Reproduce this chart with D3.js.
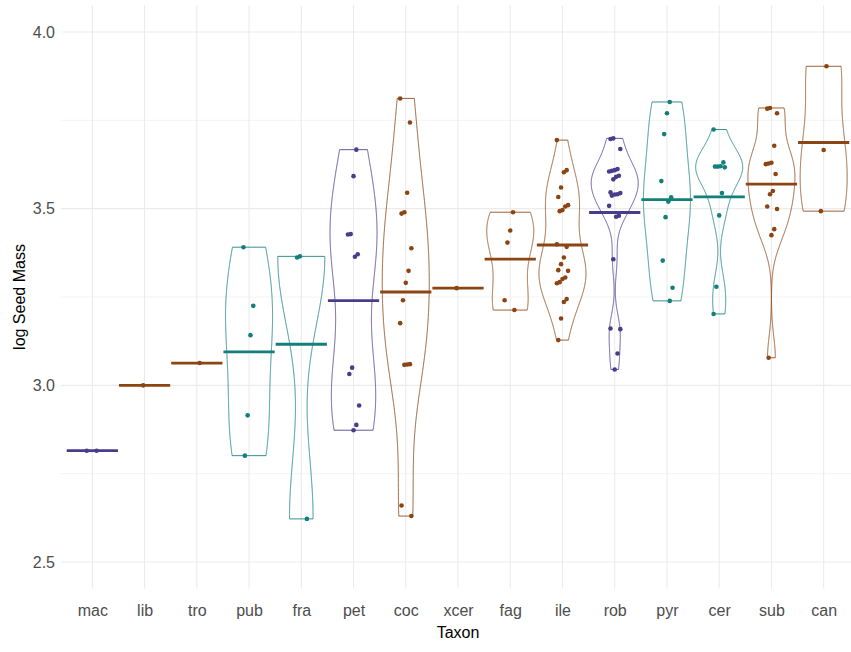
<!DOCTYPE html>
<html lang="en">
<head>
    <meta charset="UTF-8">
    <title>log Seed Mass by Taxon</title>
    <script src="https://cdnjs.cloudflare.com/ajax/libs/d3/7.8.5/d3.min.js"></script>
    <style>
        * { margin: 0; padding: 0; box-sizing: border-box; }
        body { background: #fff; font-family: 'Liberation Sans', Arial, sans-serif; }
        .tick text { fill: #4d4d4d; font-size: 16px; font-family: 'Liberation Sans', Arial, sans-serif; }
        .axis-title { fill: #000; font-size: 16px; }
    </style>
</head>
<body>
    <div id="chart"></div>

    <script>
        // categories and colour group of each taxon
        const taxa = ["mac", "lib", "tro", "pub", "fra", "pet", "coc", "xcer", "fag", "ile", "rob", "pyr", "cer", "sub", "can"];
        const clade = ["A", "B", "B", "C", "C", "A", "B", "B", "B", "B", "A", "C", "C", "B", "B"];

        // log seed mass per taxon
        const mac = [2.815, 2.815];
        const lib = [3.0];
        const tro = [3.063];
        const pub = [3.391, 3.225, 3.142, 2.915, 2.801];
        const fra = [3.365, 3.362, 2.622];
        const pet = [3.667, 3.592, 3.428, 3.427, 3.371, 3.364, 3.05, 3.032, 2.943, 2.888, 2.873];
        const coc = [3.812, 3.744, 3.545, 3.49, 3.486, 3.388, 3.324, 3.29, 3.241, 3.176, 3.06, 3.059, 3.058, 2.66, 2.63];
        const xcer = [3.275];
        const fag = [3.49, 3.438, 3.404, 3.241, 3.213];
        const ile = [3.694, 3.609, 3.603, 3.56, 3.533, 3.51, 3.506, 3.496, 3.493, 3.399, 3.392, 3.362, 3.343,
                     3.326, 3.324, 3.305, 3.301, 3.292, 3.289, 3.244, 3.236, 3.189, 3.128];
        const rob = [3.699, 3.697, 3.669, 3.612, 3.609, 3.607, 3.605, 3.593, 3.59, 3.583, 3.546, 3.544, 3.541,
                     3.54, 3.537, 3.508, 3.48, 3.477, 3.357, 3.161, 3.159, 3.09, 3.045];
        const pyr = [3.802, 3.77, 3.711, 3.578, 3.532, 3.52, 3.476, 3.353, 3.276, 3.239];
        const cer = [3.724, 3.631, 3.62, 3.619, 3.619, 3.617, 3.544, 3.481, 3.279, 3.202];
        const sub = [3.785, 3.783, 3.77, 3.678, 3.63, 3.628, 3.626, 3.598, 3.55, 3.541, 3.506, 3.499, 3.442, 3.425, 3.078];
        const can = [3.903, 3.666, 3.493];

        const seedMass = [mac, lib, tro, pub, fra, pet, coc, xcer, fag, ile, rob, pyr, cer, sub, can];

        const yTicks = [2.5, 3.0, 3.5, 4.0];
        const yMinor = [2.75, 3.25, 3.75];

        const colors = { A: "#483d8b", B: "#8b4513", C: "#127f7a" };

        const width = 851, height = 652;
        const panel = { left: 61, right: 855, top: 5.5, bottom: 588.5 };

        const svg = d3.select("#chart").append("svg")
            .attr("width", width)
            .attr("height", height);

        const x = d3.scalePoint()
            .domain(taxa)
            .range([panel.left, panel.right])
            .padding(0.6);
        const step = x.step();

        // ylim(2.5, 4) with ggplot's 5% expansion
        const y = d3.scaleLinear()
            .domain([2.425, 4.075])
            .range([panel.bottom, panel.top]);

        // grid
        const grid = svg.append("g");
        grid.selectAll(".minor").data(yMinor).enter().append("line")
            .attr("x1", panel.left).attr("x2", width)
            .attr("y1", d => y(d)).attr("y2", d => y(d))
            .attr("stroke", "#ebebeb").attr("stroke-width", 0.6);
        grid.selectAll(".major").data(yTicks).enter().append("line")
            .attr("x1", panel.left).attr("x2", width)
            .attr("y1", d => y(d)).attr("y2", d => y(d))
            .attr("stroke", "#ebebeb").attr("stroke-width", 1.1);
        grid.selectAll(".vert").data(taxa).enter().append("line")
            .attr("x1", d => x(d)).attr("x2", d => x(d))
            .attr("y1", panel.top).attr("y2", panel.bottom)
            .attr("stroke", "#ebebeb").attr("stroke-width", 1.1);

        // bandwidth like R's bw.nrd0
        function bwNrd0(vals) {
            const s = vals.slice().sort(d3.ascending);
            const hi = d3.deviation(s) || 0;
            const iqr = d3.quantile(s, 0.75) - d3.quantile(s, 0.25);
            let lo = Math.min(hi, iqr / 1.34);
            if (!lo) lo = hi || Math.abs(s[0]) || 1;
            return 0.9 * lo * Math.pow(s.length, -0.2);
        }

        function violinData(vals) {
            const bw = bwNrd0(vals);
            const lo = d3.min(vals), hi = d3.max(vals);
            const pts = d3.range(512).map(i => {
                const v = lo + (hi - lo) * i / 511;
                const dens = d3.mean(vals, xi => {
                    const u = (v - xi) / bw;
                    return Math.exp(-0.5 * u * u) / (bw * Math.sqrt(2 * Math.PI));
                });
                return { v, dens };
            });
            const maxD = d3.max(pts, p => p.dens);
            pts.forEach(p => p.w = p.dens / maxD);
            return pts;
        }

        const violins = svg.append("g");
        taxa.forEach((t, i) => {
            const vals = seedMass[i];
            if (vals.length < 2 || d3.max(vals) === d3.min(vals)) return;
            const cx = x(t);
            const hw = step * 0.45;
            const area = d3.area()
                .x0(d => cx - hw * d.w)
                .x1(d => cx + hw * d.w)
                .y(d => y(d.v));
            violins.append("path")
                .attr("d", area(violinData(vals)))
                .attr("fill", "none")
                .attr("stroke", colors[clade[i]])
                .attr("stroke-opacity", 0.85)
                .attr("stroke-width", 1);
        });

        // jittered points (small fixed horizontal offsets)
        const points = svg.append("g");
        taxa.forEach((t, i) => {
            points.selectAll(null).data(seedMass[i]).enter().append("circle")
                .attr("cx", (d, j) => x(t) + (((j * 7 + i * 3) % 9) - 4) * 1.4)
                .attr("cy", d => y(d))
                .attr("r", 2.3)
                .attr("fill", colors[clade[i]]);
        });

        // mean line per taxon
        svg.append("g").selectAll("line")
            .data(taxa)
            .enter().append("line")
            .attr("x1", d => x(d) - step / 2 + 0.5)
            .attr("x2", d => x(d) + step / 2 - 0.5)
            .attr("y1", (d, i) => y(d3.mean(seedMass[i])))
            .attr("y2", (d, i) => y(d3.mean(seedMass[i])))
            .attr("stroke", (d, i) => colors[clade[i]])
            .attr("stroke-width", 2.8);

        // axes
        const yAxis = svg.append("g")
            .attr("transform", `translate(${panel.left},0)`)
            .call(d3.axisLeft(y).tickValues(yTicks).tickSize(0).tickPadding(6).tickFormat(d3.format(".1f")));
        yAxis.select(".domain").remove();

        const xAxis = svg.append("g")
            .attr("transform", `translate(0,${panel.bottom})`)
            .call(d3.axisBottom(x).tickSize(0).tickPadding(16));
        xAxis.select(".domain").remove();

        svg.append("text")
            .attr("class", "axis-title")
            .attr("x", (panel.left + panel.right) / 2)
            .attr("y", 638)
            .attr("text-anchor", "middle")
            .text("Taxon");

        svg.append("text")
            .attr("class", "axis-title")
            .attr("transform", `translate(25,${(panel.top + panel.bottom) / 2}) rotate(-90)`)
            .attr("text-anchor", "middle")
            .text("log Seed Mass");
    </script>
</body>
</html>
